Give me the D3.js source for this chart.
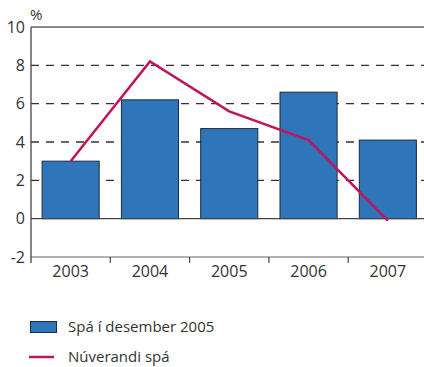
<!DOCTYPE html>
<html><head><meta charset="utf-8">
<script src="https://cdn.jsdelivr.net/npm/d3@7"></script>
<style>body{margin:0;background:#fff;}svg{display:block;font-family:"Open Sans",Lato,sans-serif;}</style>
</head><body><svg id="c" width="424" height="367"></svg>
<script>
const years = ["2003","2004","2005","2006","2007"];
const barValues = [3.0, 6.2, 4.7, 6.6, 4.1];
const lineValues = [3.0, 8.2, 5.6, 4.1, -0.1];
const yTicks = [-2, 0, 2, 4, 6, 8, 10];
const barLabel = "Spá í desember 2005";
const lineLabel = "Núverandi spá";

(function(){
const svg = d3.select("#c");
const pL = 31, pR = 427.5, pT = 27, pB = 257;
const x = d3.scaleBand().domain(years).range([pL, pR]).paddingInner(0.28).paddingOuter(0.14);
const y = d3.scaleLinear().domain([-2, 10]).range([pB, pT]);

// gridlines
svg.append("g").selectAll("line").data([2,4,6,8]).join("line")
  .attr("x1", pL).attr("x2", 424).attr("y1", d => y(d)).attr("y2", d => y(d))
  .attr("stroke", "#333").attr("stroke-width", 1.3).attr("stroke-dasharray", "8,7");
svg.append("line").attr("x1", pL).attr("x2", 424).attr("y1", y(10)).attr("y2", y(10))
  .attr("stroke", "#888").attr("stroke-width", 2);
svg.append("line").attr("x1", pL).attr("x2", 424).attr("y1", y(-2)).attr("y2", y(-2))
  .attr("stroke", "#999").attr("stroke-width", 1.5);

// bars
svg.append("g").selectAll("rect").data(years).join("rect")
  .attr("x", d => x(d)).attr("width", x.bandwidth())
  .attr("y", (d,i) => y(Math.max(0, barValues[i])))
  .attr("height", (d,i) => Math.abs(y(barValues[i]) - y(0)))
  .attr("fill", "#2e75ba").attr("stroke", "#1c2b3c").attr("stroke-width", 1);

// zero line
svg.append("line").attr("x1", pL).attr("x2", 424).attr("y1", y(0)).attr("y2", y(0))
  .attr("stroke", "#444").attr("stroke-width", 1.2);

// line series
const line = d3.line().x((d,i) => x(years[i]) + x.bandwidth()/2).y(d => y(d));
svg.append("path").datum(lineValues).attr("d", line)
  .attr("fill", "none").attr("stroke", "#c0145f").attr("stroke-width", 2.5);

// y axis
svg.append("line").attr("x1", pL).attr("x2", pL).attr("y1", pT).attr("y2", pB + 6)
  .attr("stroke", "#444").attr("stroke-width", 1.3);
svg.append("g").selectAll("text").data(yTicks).join("text")
  .attr("x", 25).attr("y", d => y(d)).attr("dy", "0.36em").attr("text-anchor", "end")
  .attr("font-size", 16).attr("fill", "#333").text(d => d);
svg.append("text").attr("x", 30).attr("y", 20).attr("font-size", 15).attr("fill", "#333").text("%");

// x ticks
const step = x.step();
const bounds = years.map((d,i) => pL + i*step).slice(1);
svg.append("g").selectAll("line").data(bounds).join("line")
  .attr("x1", d => d).attr("x2", d => d).attr("y1", pB).attr("y2", pB + 6)
  .attr("stroke", "#444").attr("stroke-width", 1.2);
svg.append("g").selectAll("text").data(years).join("text")
  .attr("x", d => x(d) + x.bandwidth()/2).attr("y", 277).attr("text-anchor", "middle")
  .attr("font-size", 16).attr("fill", "#333").text(d => d);

// legend
svg.append("rect").attr("x", 30.5).attr("y", 321.5).attr("width", 26).attr("height", 11)
  .attr("fill", "#2e75ba").attr("stroke", "#1c2b3c").attr("stroke-width", 1);
svg.append("text").attr("x", 68).attr("y", 332).attr("font-size", 15).attr("fill", "#333").text(barLabel);
svg.append("line").attr("x1", 29).attr("x2", 54).attr("y1", 357).attr("y2", 357)
  .attr("stroke", "#c0145f").attr("stroke-width", 2.5);
svg.append("text").attr("x", 68).attr("y", 362).attr("font-size", 15).attr("fill", "#333").text(lineLabel);
})();
</script></body></html>
